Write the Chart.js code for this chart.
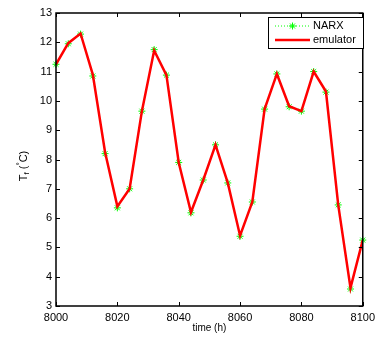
<!DOCTYPE html>
<html>
<head>
<meta charset="utf-8">
<script src="https://cdn.jsdelivr.net/npm/chart.js@4/dist/chart.umd.min.js"></script>
<style>
  html, body { margin: 0; padding: 0; background: #fff; }
  #wrap { width: 380px; height: 337px; }
</style>
</head>
<body>
<div id="wrap"><canvas id="myChart" width="380" height="337"></canvas></div>
<script>
// 時刻 (h)
const hours = [8000, 8004, 8008, 8012, 8016, 8020, 8024, 8028, 8032, 8036, 8040, 8044, 8048,
               8052, 8056, 8060, 8064, 8068, 8072, 8076, 8080, 8084, 8088, 8092, 8096, 8100];
// NARX
const narx = [11.25, 11.95, 12.28, 10.85, 8.2, 6.35, 7.0, 9.65, 11.75, 10.88, 7.9, 6.18, 7.3,
              8.5, 7.2, 5.38, 6.55, 9.72, 10.92, 9.8, 9.65, 11.0, 10.3, 6.45, 3.58, 5.25];
// emulator
const emulator = [11.25, 11.97, 12.3, 10.9, 8.25, 6.4, 7.0, 9.65, 11.72, 10.88, 7.9, 6.2, 7.3,
                  8.5, 7.2, 5.4, 6.55, 9.72, 10.92, 9.82, 9.65, 11.0, 10.32, 6.45, 3.62, 5.25];
// 目盛り
const xTicks = [8000, 8020, 8040, 8060, 8080, 8100];
const yTicks = [3, 4, 5, 6, 7, 8, 9, 10, 11, 12, 13];

const FONT = '"Liberation Sans", Arial, sans-serif';

// 枠・内向き目盛り・軸ラベル・凡例を描く
const matlabStyle = {
  id: 'matlabStyle',
  afterDraw(chart) {
    const ctx = chart.ctx;
    const a = chart.chartArea;
    const xs = chart.scales.x, ys = chart.scales.y;
    ctx.save();
    ctx.strokeStyle = '#000';
    ctx.lineWidth = 1;
    ctx.beginPath();
    xTicks.forEach(v => {
      const px = Math.round(xs.getPixelForValue(v)) + 0.5;
      ctx.moveTo(px, a.bottom); ctx.lineTo(px, a.bottom - 4);
      ctx.moveTo(px, a.top); ctx.lineTo(px, a.top + 4);
    });
    yTicks.forEach(v => {
      const py = Math.round(ys.getPixelForValue(v)) + 0.5;
      ctx.moveTo(a.left, py); ctx.lineTo(a.left + 4, py);
      ctx.moveTo(a.right, py); ctx.lineTo(a.right - 4, py);
    });
    ctx.stroke();
    ctx.lineWidth = 1.5;
    ctx.strokeRect(a.left, a.top, a.right - a.left, a.bottom - a.top);

    // x軸ラベル
    ctx.fillStyle = '#000';
    ctx.font = '10px ' + FONT;
    ctx.textAlign = 'center';
    ctx.textBaseline = 'middle';
    ctx.fillText('time (h)', (a.left + a.right) / 2, 328);

    // y軸ラベル T_f (°C)
    ctx.save();
    ctx.translate(24, 166);
    ctx.rotate(-Math.PI / 2);
    ctx.textAlign = 'left';
    ctx.textBaseline = 'middle';
    const parts = [['T', 11, 0], ['f', 8, 3], [' (', 11, 0], ['\u00B0', 8, -4], ['C)', 11, 0]];
    let w = 0;
    parts.forEach(p => { ctx.font = p[1] + 'px ' + FONT; w += ctx.measureText(p[0]).width; });
    let x = -w / 2;
    parts.forEach(p => {
      ctx.font = p[1] + 'px ' + FONT;
      ctx.fillText(p[0], x, p[2]);
      x += ctx.measureText(p[0]).width;
    });
    ctx.restore();

    // 凡例
    const lx = 268, ly = 17, lw = 95, lh = 31;
    ctx.fillStyle = '#fff';
    ctx.fillRect(lx, ly, lw, lh);
    ctx.lineWidth = 1;
    ctx.strokeStyle = '#000';
    ctx.strokeRect(lx + 0.5, ly + 0.5, lw, lh);
    // NARX
    ctx.strokeStyle = '#00ff00';
    ctx.setLineDash([1, 2]);
    ctx.beginPath();
    ctx.moveTo(275, 26); ctx.lineTo(310, 26);
    ctx.stroke();
    ctx.setLineDash([]);
    ctx.beginPath();
    for (let i = 0; i < 4; i++) {
      const t = i * Math.PI / 4;
      ctx.moveTo(292.5 - 3.5 * Math.cos(t), 26 - 3.5 * Math.sin(t));
      ctx.lineTo(292.5 + 3.5 * Math.cos(t), 26 + 3.5 * Math.sin(t));
    }
    ctx.stroke();
    // emulator
    ctx.strokeStyle = '#ff0000';
    ctx.lineWidth = 2.5;
    ctx.beginPath();
    ctx.moveTo(275, 40); ctx.lineTo(310, 40);
    ctx.stroke();
    ctx.fillStyle = '#000';
    ctx.font = '11px ' + FONT;
    ctx.textAlign = 'left';
    ctx.fillText('NARX', 313, 26);
    ctx.fillText('emulator', 313, 40);
    ctx.restore();
  }
};

const data = {
  datasets: [{
    label: 'NARX',
    data: hours.map((h, i) => ({ x: h, y: narx[i] })),
    showLine: false,
    borderColor: '#00ff00',
    backgroundColor: '#00ff00',
    pointStyle: 'star',
    pointRadius: 3.5,
    pointBorderWidth: 1,
    clip: false,
    order: 2
  }, {
    label: 'emulator',
    data: hours.map((h, i) => ({ x: h, y: emulator[i] })),
    showLine: true,
    borderColor: '#ff0000',
    borderWidth: 2.5,
    pointRadius: 0,
    tension: 0,
    order: 1
  }]
};

const config = {
  type: 'scatter',
  data: data,
  options: {
    responsive: false,
    animation: false,
    layout: { padding: { top: 13, right: 12, left: 0, bottom: 0 } },
    plugins: { legend: { display: false }, tooltip: { enabled: false } },
    scales: {
      x: {
        type: 'linear', min: 8000, max: 8100,
        afterFit: s => { s.height = 31; },
        afterBuildTicks: s => { s.ticks = xTicks.map(v => ({ value: v })); },
        grid: { display: false, drawTicks: false },
        border: { display: false },
        ticks: { color: '#000', font: { family: FONT, size: 11 }, padding: 5, maxRotation: 0,
                 callback: v => String(v) }
      },
      y: {
        min: 3, max: 13,
        afterFit: s => { s.width = 56; },
        afterBuildTicks: s => { s.ticks = yTicks.map(v => ({ value: v })); },
        grid: { display: false, drawTicks: false },
        border: { display: false },
        ticks: { color: '#000', font: { family: FONT, size: 11 }, padding: 4,
                 callback: v => String(v) }
      }
    }
  },
  plugins: [matlabStyle]
};

const myChart = new Chart(document.getElementById('myChart'), config);
</script>
</body>
</html>
